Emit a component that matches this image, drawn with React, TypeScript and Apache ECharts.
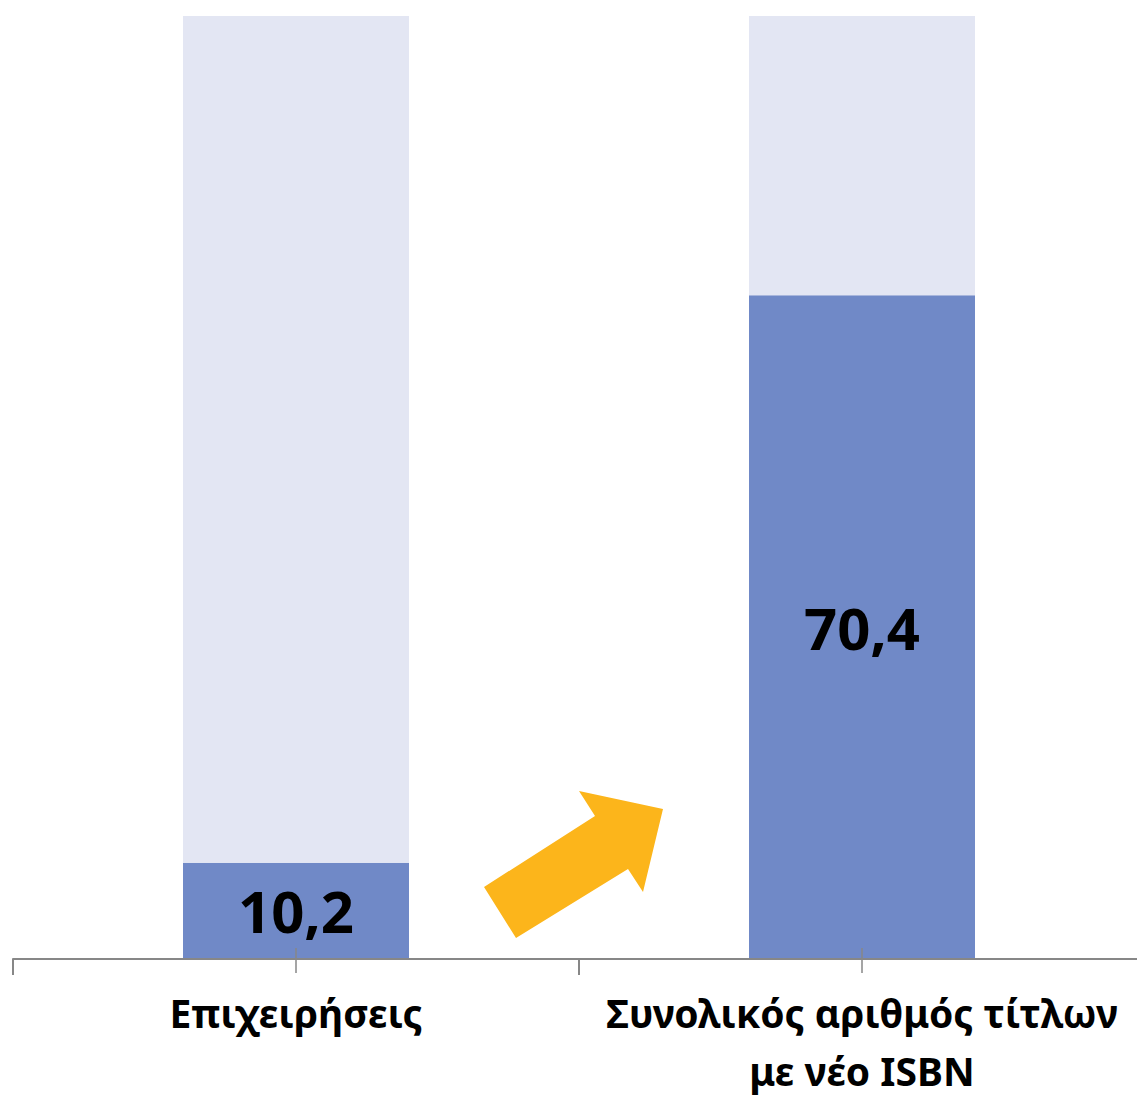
import React, { useEffect, useRef } from "react";
import * as echarts from "echarts";

const categories = ["Επιχειρήσεις", "Συνολικός αριθμός τίτλων\nμε νέο ISBN"];
const values = [10.2, 70.4];
const total = 100;
const remainders = values.map((v) => +(total - v).toFixed(1));

const blue = "#7089C7";
const pale = "#E3E6F3";
const axisGray = "#878787";
const font = "'Noto Sans', 'DejaVu Sans', sans-serif";

export default function App() {
  const ref = useRef<HTMLDivElement>(null);
  useEffect(() => {
    document.body.style.margin = "0";
    const chart = echarts.init(ref.current!, null, { renderer: "svg" });
    const gridBox = { left: 13, width: 1132, top: 16, bottom: 138, containLabel: false, outerBoundsMode: "none" };
    chart.setOption({
      animation: false,
      grid: [gridBox, { ...gridBox, bottom: 149 }],
      xAxis: [
        {
          type: "category",
          gridIndex: 0,
          data: categories,
          z: 10,
          axisLine: { show: true, lineStyle: { color: axisGray, width: 2 } },
          axisTick: { show: true, length: 16, lineStyle: { color: axisGray, width: 2 } },
          axisLabel: {
            interval: 0,
            color: "#000",
            fontFamily: font,
            fontWeight: "bold",
            fontSize: 39,
            lineHeight: 58,
            margin: 24,
            verticalAlign: "top",
          },
        },
        {
          type: "category",
          gridIndex: 1,
          data: categories,
          position: "bottom",
          zlevel: 1,
          z: 100,
          axisLine: { show: false },
          axisTick: { show: true, alignWithLabel: true, length: 25, lineStyle: { color: axisGray, width: 1.5 } },
          axisLabel: { show: false },
        },
      ],
      yAxis: [
        { type: "value", gridIndex: 0, min: 0, max: total, show: false },
        { type: "value", gridIndex: 1, min: 0, max: total, show: false },
      ],
      series: [
        {
          type: "bar",
          stack: "s",
          z: 1,
          data: values,
          barWidth: 226,
          itemStyle: { color: blue },
          label: {
            show: true,
            position: "inside",
            formatter: (p: any) => String(p.value).replace(".", ","),
            color: "#000",
            fontFamily: font,
            fontWeight: "bold",
            fontSize: 58,
          },
        },
        {
          type: "bar",
          stack: "s",
          z: 1,
          data: remainders,
          barWidth: 226,
          itemStyle: { color: pale },
        },
      ],
      graphic: [
        {
          type: "polygon",
          shape: {
            points: [
              [516, 938],
              [484, 887],
              [595, 816],
              [579, 791],
              [663, 809],
              [643, 892],
              [628, 869],
            ],
          },
          style: { fill: "#FCB51B" },
        },
      ],
    });
    return () => chart.dispose();
  }, []);
  return <div ref={ref} style={{ width: 1137, height: 1097 }} />;
}
